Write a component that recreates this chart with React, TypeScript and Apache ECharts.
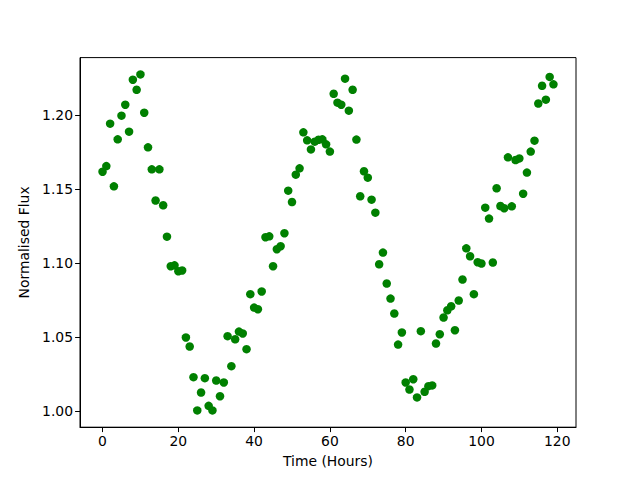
import React, { useEffect, useRef } from "react";
import * as echarts from "echarts";

const hours = [
  0, 1, 2, 3, 4, 5, 6, 7, 8, 9, 10, 11, 12, 13, 14, 15, 16, 17, 18, 19,
  20, 21, 22, 23, 24, 25, 26, 27, 28, 29, 30, 31, 32, 33, 34, 35, 36, 37, 38, 39,
  40, 41, 42, 43, 44, 45, 46, 47, 48, 49, 50, 51, 52, 53, 54, 55, 56, 57, 58, 59,
  60, 61, 62, 63, 64, 65, 66, 67, 68, 69, 70, 71, 72, 73, 74, 75, 76, 77, 78, 79,
  80, 81, 82, 83, 84, 85, 86, 87, 88, 89, 90, 91, 92, 93, 94, 95, 96, 97, 98, 99,
  100, 101, 102, 103, 104, 105, 106, 107, 108, 109, 110, 111, 112, 113, 114, 115, 116, 117, 118, 119,
];

const flux = [
  1.1619, 1.1657, 1.1944, 1.152, 1.1838, 1.1998, 1.2072, 1.189, 1.2241, 1.2173,
  1.2277, 1.2018, 1.1784, 1.1635, 1.1424, 1.1635, 1.1392, 1.118, 1.098, 1.0986,
  1.0946, 1.0951, 1.0498, 1.0437, 1.023, 1.0005, 1.0126, 1.0223, 1.0036, 1.0005,
  1.0207, 1.0101, 1.0194, 1.0507, 1.0304, 1.0486, 1.0538, 1.0525, 1.0419, 1.0791,
  1.07, 1.0689, 1.0809, 1.1176, 1.1182, 1.098, 1.1095, 1.1115, 1.1203, 1.1491,
  1.1414, 1.1599, 1.1642, 1.1885, 1.1831, 1.177, 1.1822, 1.1835, 1.1838, 1.1804,
  1.1755, 1.2146, 1.2086, 1.2072, 1.2248, 1.2032, 1.2173, 1.1836, 1.1453, 1.1622,
  1.1579, 1.143, 1.1342, 1.0993, 1.1072, 1.0863, 1.0761, 1.066, 1.045, 1.0532,
  1.0194, 1.0146, 1.0216, 1.0093, 1.0541, 1.0131, 1.0169, 1.0174, 1.0457, 1.052,
  1.0633, 1.0682, 1.0709, 1.0547, 1.0748, 1.089, 1.1101, 1.1047, 1.0791, 1.1007,
  1.0998, 1.1376, 1.1302, 1.1005, 1.1507, 1.1387, 1.1372, 1.1716, 1.1385, 1.1698,
  1.1709, 1.147, 1.1613, 1.1755, 1.1829, 1.208, 1.22, 1.2106, 1.226, 1.221,
];

const xTicks = [0, 20, 40, 60, 80, 100, 120];
const yTicks = [1.0, 1.05, 1.1, 1.15, 1.2];

const FONT = "DejaVu Sans";

export default function App() {
  const ref = useRef<HTMLDivElement>(null);
  useEffect(() => {
    if (!ref.current) return;
    const chart = echarts.init(ref.current, null, { renderer: "svg" });
    const data = hours.map((h, i) => [h, flux[i]]);
    const xMin = Math.min(...hours);
    const xMax = Math.max(...hours);
    const yMin = Math.min(...flux);
    const yMax = Math.max(...flux);
    const xm = (xMax - xMin) * 0.05;
    const ym = (yMax - yMin) * 0.05;
    chart.setOption({
      animation: false,
      backgroundColor: "#ffffff",
      grid: {
        left: 80,
        right: 64,
        top: 57.6,
        bottom: 52.8,
        show: true,
        borderColor: "#000000",
        borderWidth: 1,
        backgroundColor: "transparent",
      },
      xAxis: {
        type: "value",
        min: xMin - xm,
        max: xMax + xm,
        name: "Time (Hours)",
        nameLocation: "middle",
        nameGap: 27,
        nameTextStyle: { fontFamily: FONT, fontSize: 13.9, color: "#000" },
        axisLine: { show: true, onZero: false, lineStyle: { color: "#000", width: 1 } },
        axisTick: {
          show: true,
          inside: false,
          length: 4.9,
          customValues: xTicks,
          lineStyle: { color: "#000", width: 1 },
        },
        axisLabel: {
          show: true,
          customValues: xTicks,
          margin: 7,
          fontFamily: FONT,
          fontSize: 13.9,
          color: "#000",
          formatter: (v: number) => String(Math.round(v)),
        },
        splitLine: { show: false },
      },
      yAxis: {
        type: "value",
        min: yMin - ym,
        max: yMax + ym,
        name: "Normalised Flux",
        nameLocation: "middle",
        nameGap: 47,
        nameRotate: 90,
        nameTextStyle: { fontFamily: FONT, fontSize: 13.9, color: "#000" },
        axisLine: { show: true, onZero: false, lineStyle: { color: "#000", width: 1 } },
        axisTick: {
          show: true,
          inside: false,
          length: 4.9,
          customValues: yTicks,
          lineStyle: { color: "#000", width: 1 },
        },
        axisLabel: {
          show: true,
          customValues: yTicks,
          margin: 7,
          fontFamily: FONT,
          fontSize: 13.9,
          color: "#000",
          formatter: (v: number) => v.toFixed(2),
        },
        splitLine: { show: false },
      },
      series: [
        {
          type: "scatter",
          data,
          symbol: "circle",
          symbolSize: 8.5,
          itemStyle: { color: "#008000", opacity: 1 },
          silent: true,
        },
      ],
    });
    return () => chart.dispose();
  }, []);
  return (
    <div
      ref={ref}
      style={{ position: "fixed", left: 0, top: 0, width: 640, height: 480, background: "#fff" }}
    />
  );
}
